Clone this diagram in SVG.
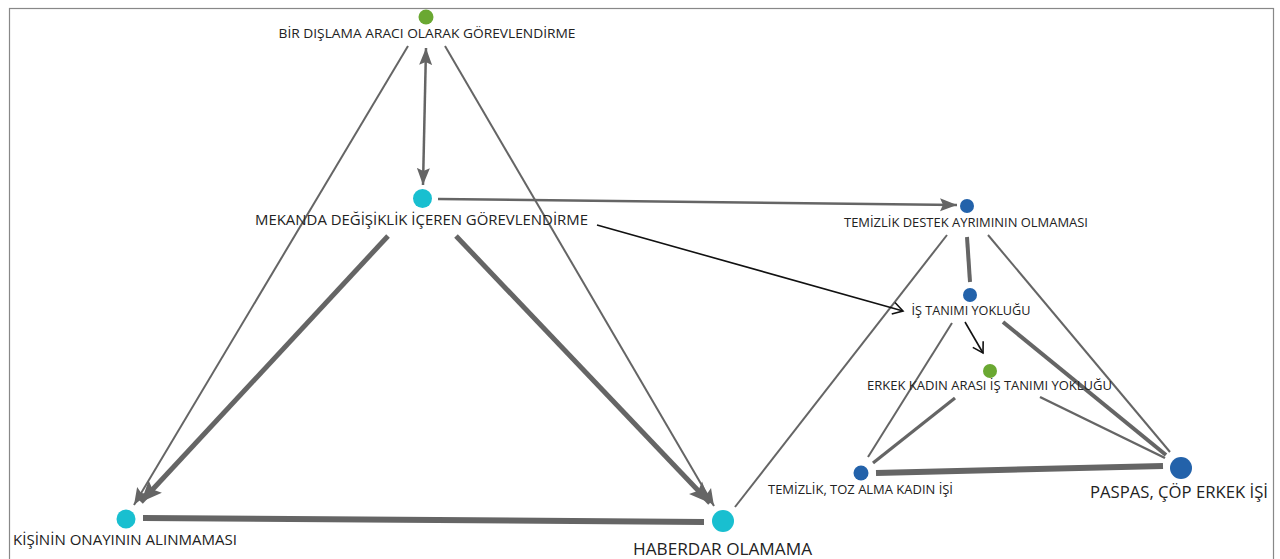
<svg xmlns="http://www.w3.org/2000/svg" width="1280" height="559" viewBox="0 0 1280 559">
<style>
.e{fill:none;stroke:#656565;stroke-linecap:butt}
.k{fill:none;stroke:#111;stroke-width:1.6}
.t{font-family:"Open Sans","Noto Sans","DejaVu Sans",sans-serif;fill:#222}
.cy{fill:#19bfd0}.bl{fill:#2362aa}.gr{fill:#6aa832}
</style>
<defs>
<marker id="ag" markerUnits="userSpaceOnUse" markerWidth="20" markerHeight="16" refX="17" refY="8" orient="auto-start-reverse"><path d="M0,1.5 L17,8 L0,14.5 L3,8 z" fill="#656565"/></marker>
<marker id="agb" markerUnits="userSpaceOnUse" markerWidth="24" markerHeight="20" refX="21" refY="10" orient="auto"><path d="M0,1 L21,10 L0,19 L4,10 z" fill="#656565"/></marker>
<marker id="ak" markerUnits="userSpaceOnUse" markerWidth="14" markerHeight="14" refX="11" refY="7" orient="auto"><path d="M1,1 L11,7 L1,13" fill="none" stroke="#111" stroke-width="1.6"/></marker>
</defs>
<rect x="9.5" y="8.5" width="1264" height="560" fill="#fff" stroke="#888" stroke-width="1.2"/>
<g id="connectors">
<line class="e" x1="426" y1="48" x2="423" y2="185" stroke-width="2.5" marker-start="url(#ag)" marker-end="url(#ag)"/>
<line class="e" x1="408" y1="46" x2="134" y2="505" stroke-width="2" marker-end="url(#ag)"/>
<line class="e" x1="445" y1="46" x2="714" y2="506" stroke-width="2" marker-end="url(#ag)"/>
<line class="e" x1="388" y1="236" x2="141" y2="502" stroke-width="5" marker-end="url(#agb)"/>
<line class="e" x1="456" y1="236" x2="710" y2="503" stroke-width="5" marker-end="url(#agb)"/>
<line class="e" x1="143" y1="518" x2="704" y2="522" stroke-width="6"/>
<line class="e" x1="735" y1="507" x2="947" y2="235" stroke-width="2"/>
<line class="e" x1="438" y1="199" x2="957" y2="205" stroke-width="2.5" marker-end="url(#ag)"/>
<line class="k" x1="597" y1="225" x2="903" y2="311" marker-end="url(#ak)"/>
<line class="e" x1="967" y1="237" x2="970" y2="282" stroke-width="4"/>
<line class="e" x1="988" y1="235" x2="1170" y2="452" stroke-width="2"/>
<line class="k" x1="965" y1="322" x2="983" y2="353" marker-end="url(#ak)"/>
<line class="e" x1="952" y1="323" x2="868" y2="457" stroke-width="2"/>
<line class="e" x1="1003" y1="322" x2="1166" y2="455" stroke-width="4"/>
<line class="e" x1="955" y1="398" x2="873" y2="463" stroke-width="3.2"/>
<line class="e" x1="1040" y1="397" x2="1165" y2="458" stroke-width="2.5"/>
<line class="e" x1="876" y1="473" x2="1163" y2="466" stroke-width="6"/>
</g>
<g id="n-bir"><circle class="gr" cx="426" cy="17" r="7.5"/><text class="t" x="427" y="38" font-size="13" text-anchor="middle" textLength="297" lengthAdjust="spacingAndGlyphs">BİR DIŞLAMA ARACI OLARAK GÖREVLENDİRME</text></g>
<g id="n-mekanda"><circle class="cy" cx="422.5" cy="198.5" r="9.5"/><text class="t" x="421.5" y="225" font-size="14" text-anchor="middle" textLength="333" lengthAdjust="spacingAndGlyphs">MEKANDA DEĞİŞİKLİK İÇEREN GÖREVLENDİRME</text></g>
<g id="n-kisinin"><circle class="cy" cx="126" cy="519" r="9.5"/><text class="t" x="13" y="545" font-size="14" textLength="224" lengthAdjust="spacingAndGlyphs">KİŞİNİN ONAYININ ALINMAMASI</text></g>
<g id="n-haberdar"><circle class="cy" cx="723" cy="521" r="11"/><text class="t" x="722.5" y="555" font-size="17" text-anchor="middle" textLength="179" lengthAdjust="spacingAndGlyphs">HABERDAR OLAMAMA</text></g>
<g id="n-temizlikdestek"><circle class="bl" cx="967" cy="206" r="7"/><text class="t" x="966" y="227" font-size="12" text-anchor="middle" textLength="244" lengthAdjust="spacingAndGlyphs">TEMİZLİK DESTEK AYRIMININ OLMAMASI</text></g>
<g id="n-istanimi"><circle class="bl" cx="970" cy="295" r="7"/><text class="t" x="971" y="315" font-size="12" text-anchor="middle" textLength="119" lengthAdjust="spacingAndGlyphs">İŞ TANIMI YOKLUĞU</text></g>
<g id="n-erkekkadin"><circle class="gr" cx="990" cy="371" r="7"/><text class="t" x="989.5" y="390" font-size="12" text-anchor="middle" textLength="245" lengthAdjust="spacingAndGlyphs">ERKEK KADIN ARASI İŞ TANIMI YOKLUĞU</text></g>
<g id="n-toz"><circle class="bl" cx="861" cy="473" r="7.5"/><text class="t" x="860.5" y="494" font-size="12" text-anchor="middle" textLength="185" lengthAdjust="spacingAndGlyphs">TEMİZLİK, TOZ ALMA KADIN İŞİ</text></g>
<g id="n-paspas"><circle class="bl" cx="1181" cy="468" r="11"/><text class="t" x="1179" y="498" font-size="16" text-anchor="middle" textLength="178" lengthAdjust="spacingAndGlyphs">PASPAS, ÇÖP ERKEK İŞİ</text></g>
</svg>
